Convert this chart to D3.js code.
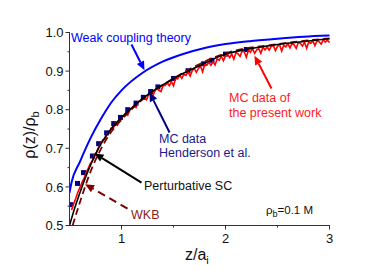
<!DOCTYPE html>
<html>
<head>
<meta charset="utf-8">
<script src="https://cdn.jsdelivr.net/npm/d3@7"></script>
<style>
  body { margin: 0; background: #fff; }
  text { font-family: "Liberation Sans", Arial, sans-serif; }
</style>
</head>
<body>
<svg id="chart" width="382" height="270"></svg>
<script>
// weak coupling theory (blue)
var weakX = [0.5, 0.52, 0.6, 0.7, 0.8, 0.9, 1.0, 1.2, 1.4, 1.6, 1.8, 2.0, 2.25, 2.5, 2.75, 3.0];
var weakY = [0.585, 0.612, 0.665, 0.725, 0.775, 0.818, 0.85, 0.895, 0.925, 0.945, 0.96, 0.97, 0.978, 0.984, 0.989, 0.992];

// perturbative SC (black)
var pscX = [0.5, 0.55, 0.6, 0.65, 0.7, 0.75, 0.8, 0.9, 1.0, 1.1, 1.2, 1.3, 1.4, 1.5, 1.6, 1.8, 2.0, 2.2, 2.4, 2.6, 2.8, 3.0];
var pscY = [0.5, 0.545, 0.585, 0.622, 0.655, 0.684, 0.71, 0.75, 0.78, 0.805, 0.828, 0.848, 0.865, 0.88, 0.895, 0.92, 0.944, 0.956, 0.965, 0.972, 0.978, 0.984];

// WKB (dark red dashed)
var wkbX = [0.53, 0.6, 0.7, 0.8, 0.9, 1.0, 1.2, 1.5, 2.0, 2.5, 3.0];
var wkbY = [0.5, 0.56, 0.638, 0.697, 0.742, 0.774, 0.826, 0.881, 0.946, 0.97, 0.985];

// MC data, Henderson et al. (squares)
var hendX = [0.51, 0.577, 0.635, 0.72, 0.78, 0.857, 0.925, 0.99, 1.06, 1.14, 1.21, 1.28, 1.35, 1.5, 1.64, 1.79, 1.87, 2.0, 2.2];
var hendY = [0.554, 0.609, 0.637, 0.68, 0.712, 0.74, 0.764, 0.78, 0.8, 0.817, 0.832, 0.847, 0.859, 0.881, 0.901, 0.919, 0.928, 0.944, 0.956];

// MC data of the present work (red), z/a_i = 0.52, 0.54, ... 3.00
var mcStart = 0.52, mcStep = 0.02;
var mcY = [
  0.540, 0.556, 0.570, 0.586, 0.598, 0.612, 0.622, 0.638, 0.648, 0.660, 0.668, 0.683, 0.690, 0.703, 0.712,
  0.722, 0.724, 0.738, 0.740, 0.752, 0.751, 0.765, 0.760, 0.776, 0.779, 0.783, 0.792, 0.786, 0.801, 0.803, 0.811, 0.806, 0.820, 0.823, 0.826,
  0.830, 0.826, 0.839, 0.840, 0.835, 0.848, 0.855, 0.850, 0.847, 0.863, 0.863, 0.870, 0.862, 0.873, 0.862, 0.881, 0.880, 0.889, 0.881, 0.892,
  0.889, 0.898, 0.887, 0.901, 0.907, 0.897, 0.907, 0.913, 0.898, 0.917, 0.915, 0.923, 0.915, 0.924, 0.916, 0.932, 0.928, 0.939, 0.927, 0.939,
  0.944, 0.935, 0.944, 0.931, 0.948, 0.945, 0.938, 0.952, 0.950, 0.936, 0.954, 0.949, 0.958, 0.946, 0.955, 0.958, 0.946, 0.962, 0.955, 0.963,
  0.954, 0.964, 0.966, 0.953, 0.964, 0.968, 0.952, 0.967, 0.963, 0.971, 0.960, 0.972, 0.968, 0.959, 0.974, 0.972, 0.965, 0.975, 0.959, 0.975,
  0.972, 0.978, 0.966, 0.979, 0.976, 0.970, 0.981, 0.975, 0.980, 0.974
];

var xTicks = [1, 2, 3], xMinor = [1.5, 2.5];
var yTicks = [0.5, 0.6, 0.7, 0.8, 0.9, 1.0], yMinor = [0.55, 0.65, 0.75, 0.85, 0.95];

var svg = d3.select("#chart");

var x = d3.scaleLinear().domain([0.5, 3]).range([69.5, 329.5]);
var y = d3.scaleLinear().domain([0.5, 1]).range([225.5, 32.5]);

function pairs(xs, ys) { return xs.map(function(v, i) { return [v, ys[i]]; }); }

// clip so curves stay inside the axes box
svg.append("clipPath").attr("id", "clip")
   .append("rect").attr("x", 69).attr("y", 28).attr("width", 265).attr("height", 197.5);

var line = d3.line()
    .x(function(d) { return x(d[0]); })
    .y(function(d) { return y(d[1]); });
var smooth = d3.line()
    .x(function(d) { return x(d[0]); })
    .y(function(d) { return y(d[1]); })
    .curve(d3.curveMonotoneX);

var plot = svg.append("g").attr("clip-path", "url(#clip)");

plot.append("path")
    .attr("d", smooth(pairs(weakX, weakY)))
    .attr("fill", "none").attr("stroke", "#0000ff").attr("stroke-width", 2);

plot.selectAll("rect.hend")
    .data(pairs(hendX, hendY))
    .enter().append("rect")
    .attr("class", "hend")
    .attr("x", function(d) { return x(d[0]) - 2.5; })
    .attr("y", function(d) { return y(d[1]) - 2.5; })
    .attr("width", 5).attr("height", 5)
    .attr("fill", "#000080");

var mcData = mcY.map(function(v, i) { return [mcStart + i * mcStep, v]; });
plot.append("path")
    .attr("d", line(mcData))
    .attr("fill", "none").attr("stroke", "#ff0000").attr("stroke-width", 1.6);

plot.append("path")
    .attr("d", smooth(pairs(wkbX, wkbY)))
    .attr("fill", "none").attr("stroke", "#800000").attr("stroke-width", 1.8)
    .attr("stroke-dasharray", "7,4");

plot.append("path")
    .attr("d", smooth(pairs(pscX, pscY)))
    .attr("fill", "none").attr("stroke", "#000").attr("stroke-width", 1.6);

// axes
var axisColor = "#333";
var xAxis = svg.append("g").attr("transform", "translate(0,225.5)");
xAxis.append("line").attr("x1", 69).attr("x2", 330).attr("stroke", axisColor);
xAxis.selectAll("line.maj").data(xTicks).enter().append("line")
    .attr("x1", x).attr("x2", x).attr("y1", 0).attr("y2", 4).attr("stroke", axisColor);
xAxis.selectAll("line.min").data(xMinor).enter().append("line")
    .attr("x1", x).attr("x2", x).attr("y1", 0).attr("y2", 2).attr("stroke", axisColor);
xAxis.selectAll("text").data(xTicks).enter().append("text")
    .attr("x", x).attr("y", 17.5)
    .attr("text-anchor", "middle").attr("font-size", 13).attr("fill", "#111")
    .text(function(d) { return d; });

var yAxis = svg.append("g").attr("transform", "translate(69.5,0)");
yAxis.append("line").attr("y1", 32).attr("y2", 226).attr("stroke", axisColor);
yAxis.selectAll("line.maj").data(yTicks).enter().append("line")
    .attr("y1", y).attr("y2", y).attr("x1", 0).attr("x2", -4).attr("stroke", axisColor);
yAxis.selectAll("line.min").data(yMinor).enter().append("line")
    .attr("y1", y).attr("y2", y).attr("x1", 0).attr("x2", -2).attr("stroke", axisColor);
yAxis.selectAll("text").data(yTicks).enter().append("text")
    .attr("x", -6).attr("y", function(d) { return y(d) + 4.7; })
    .attr("text-anchor", "end").attr("font-size", 13).attr("fill", "#111")
    .text(function(d) { return d3.format(".1f")(d); });

// axis titles
var xt = svg.append("text").attr("x", 185).attr("y", 260)
    .attr("font-size", 16).attr("fill", "#111");
xt.append("tspan").text("z/a");
xt.append("tspan").attr("font-size", 11).attr("dy", 4).text("i");

var yt = svg.append("text")
    .attr("transform", "translate(35,135)rotate(-90)")
    .attr("text-anchor", "middle").attr("font-size", 16).attr("fill", "#111");
yt.append("tspan").text("\u03c1(z)/\u03c1");
yt.append("tspan").attr("font-size", 11).attr("dy", 4).text("b");

// annotations: arrows in data units
function arrow(x0, y0, x1, y1, color, dashed) {
    var p0 = [x(x0), y(y0)], p1 = [x(x1), y(y1)];
    var ang = Math.atan2(p1[1] - p0[1], p1[0] - p0[0]);
    var len = 9, wid = 4;
    var bx = p1[0] - len * Math.cos(ang), by = p1[1] - len * Math.sin(ang);
    svg.append("line")
        .attr("x1", p0[0]).attr("y1", p0[1]).attr("x2", bx).attr("y2", by)
        .attr("stroke", color).attr("stroke-width", 2)
        .attr("stroke-dasharray", dashed ? "8,5" : null);
    var h = [p1,
        [bx + wid * Math.sin(ang), by - wid * Math.cos(ang)],
        [bx - wid * Math.sin(ang), by + wid * Math.cos(ang)]];
    svg.append("polygon").attr("points", h.map(function(p) { return p.join(","); }).join(" "))
        .attr("fill", color);
}

arrow(1.096, 0.969, 1.221, 0.902, "#0000ff");
arrow(1.462, 0.741, 1.269, 0.845, "#000080");
arrow(2.442, 0.855, 2.279, 0.940, "#ff0000");
arrow(1.192, 0.611, 0.740, 0.687, "#000");
arrow(1.058, 0.544, 0.650, 0.607, "#800000", true);

function label(px, py, txt, color) {
    svg.append("text").attr("x", px).attr("y", py)
        .attr("font-size", 12.5).attr("fill", color).text(txt);
}
label(71, 42, "Weak coupling theory", "#0000ff");
label(159, 143, "MC data", "#1a1a8c");
label(159, 157, "Henderson et al.", "#1a1a8c");
label(229, 102, "MC data of", "#ff1a1a");
label(229, 117, "the present work", "#ff1a1a");
label(144, 190, "Perturbative SC", "#111");
label(131, 219, "WKB", "#8b1a1a");

var rb = svg.append("text").attr("x", 266).attr("y", 214)
    .attr("font-size", 11.5).attr("fill", "#111");
rb.append("tspan").text("\u03c1");
rb.append("tspan").attr("font-size", 9).attr("dy", 3).text("b");
rb.append("tspan").attr("dy", -3).text("=0.1 M");
</script>
</body>
</html>
